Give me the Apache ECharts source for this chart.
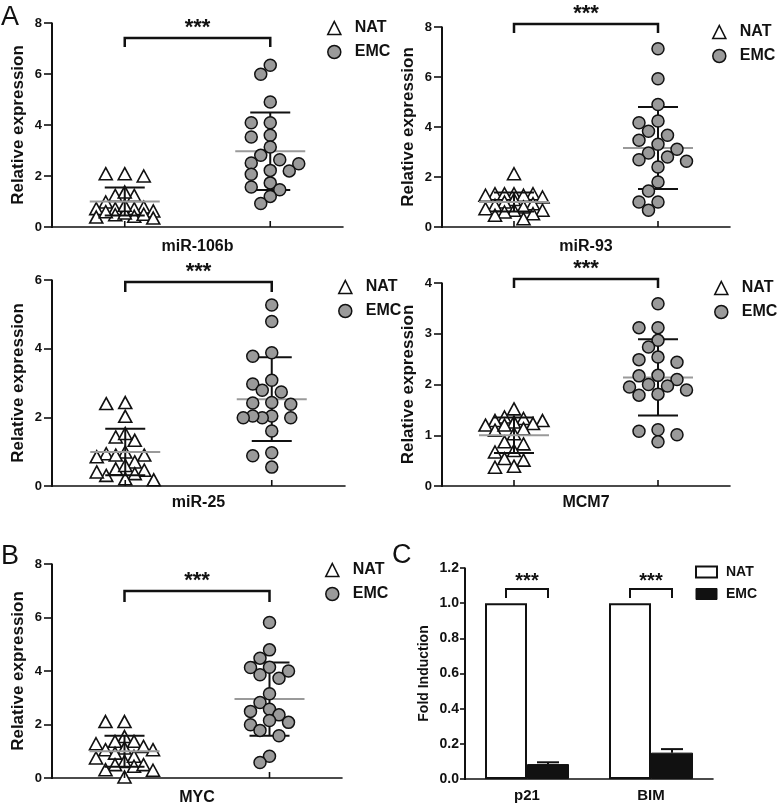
<!DOCTYPE html>
<html><head><meta charset="utf-8">
<script src="https://cdn.jsdelivr.net/npm/echarts@6/dist/echarts.min.js"></script>
<style>html,body{margin:0;padding:0;background:#fff}#c{width:782px;height:808px}</style>
</head><body><div id="c"></div>
<script>
// ---------------- DATA ----------------
const groups = ['NAT', 'EMC'];
const panelNames = ['miR-106b', 'miR-93', 'miR-25', 'MCM7', 'MYC'];
const yTitle = 'Relative expression';

const nat106b = [2.09, 2.0, 2.09, 1.24, 1.24, 1.37, 0.98, 0.72, 0.78, 0.72, 0.72, 0.63, 0.48, 0.39, 0.42, 0.55, 0.85, 0.6, 0.5, 0.35];
const emc106b = [6.34, 5.99, 4.9, 4.09, 4.09, 3.6, 3.53, 3.14, 2.81, 2.64, 2.51, 2.48, 2.22, 2.2, 2.07, 1.73, 1.57, 1.46, 1.2, 0.92];

const nat93 = [2.13, 1.33, 1.33, 1.33, 1.33, 1.27, 1.27, 1.2, 1.1, 1.0, 0.93, 0.87, 0.8, 0.73, 0.67, 0.67, 0.6, 0.53, 0.47, 0.33];
const emc93 = [7.13, 5.93, 4.9, 4.17, 4.24, 3.83, 3.47, 3.67, 3.31, 3.11, 2.96, 2.69, 2.8, 2.63, 2.4, 1.8, 1.44, 1.0, 1.0, 0.67];

const nat25 = [2.4, 2.43, 2.03, 1.33, 1.43, 1.53, 0.9, 0.94, 0.99, 0.9, 0.5, 0.7, 0.6, 0.46, 0.31, 0.41, 0.18, 0.36, 0.21, 0.85];
const emc25 = [5.27, 4.79, 3.78, 3.88, 3.08, 2.97, 2.79, 2.74, 2.42, 2.43, 2.38, 2.04, 1.99, 1.99, 2.04, 1.99, 1.6, 0.97, 0.88, 0.55];

const natMCM7 = [1.52, 1.36, 1.33, 1.29, 1.29, 1.26, 1.23, 1.2, 1.13, 1.1, 1.03, 0.87, 0.83, 0.7, 0.67, 0.54, 0.51, 0.39, 0.37, 1.2];
const emcMCM7 = [3.59, 3.12, 3.12, 2.87, 2.74, 2.44, 2.54, 2.49, 2.1, 2.17, 2.18, 1.97, 1.95, 2.0, 1.89, 1.81, 1.79, 1.08, 1.11, 1.01, 0.87];

const natMYC = [2.11, 2.11, 1.55, 1.37, 1.37, 1.28, 1.18, 1.12, 1.06, 1.06, 0.93, 0.62, 0.81, 0.75, 0.5, 0.44, 0.5, 0.31, 0.29, 0.04];
const emcMYC = [5.81, 4.79, 4.48, 4.14, 4.13, 3.86, 3.73, 4.0, 3.15, 2.82, 2.57, 2.49, 2.36, 2.08, 2.15, 1.99, 1.78, 1.58, 0.81, 0.58];

const natMean = [1.0, 1.0, 0.99, 1.0, 1.0];
const natSD = [0.55, 0.38, 0.68, 0.35, 0.58];
const emcMean = [2.97, 3.16, 2.53, 2.14, 2.95];
const emcSD = [1.52, 1.64, 1.22, 0.75, 1.37];

const yMax = [8, 8, 6, 4, 8];
const yStep = [2, 2, 2, 1, 2];
const sigLabel = '***';

const genes = ['p21', 'BIM'];
const natFold = [1.0, 1.0];
const emcFold = [0.085, 0.15];
const emcFoldErr = [0.01, 0.02];
const foldMax = 1.2;
const foldStep = 0.2;
const foldTitle = 'Fold Induction';
const panelLetters = ['A', 'B', 'C'];

// ---------------- LAYOUT ----------------
const FONT = "'Liberation Sans', Arial, Helvetica, sans-serif";
const INK = '#111111';
const layout = [
  {left: 52,  top: 23,  width: 291, height: 204, legendLeft: 322, legendTop: 15,  bracket: [7.41, 7.06], gapX: 12},
  {left: 442, top: 27,  width: 288, height: 200, legendLeft: 707, legendTop: 19,  bracket: [8.12, 7.76], gapX: 12},
  {left: 52,  top: 280, width: 293, height: 206, legendLeft: 333, legendTop: 274, bracket: [5.94, 5.65], gapX: 9},
  {left: 442, top: 283, width: 288, height: 203, legendLeft: 709, legendTop: 275, bracket: [4.08, 3.90], gapX: 9},
  {left: 52,  top: 564, width: 290, height: 214, legendLeft: 320, legendTop: 557, bracket: [6.99, 6.58], gapX: 12}
];
const barLayout = {left: 465, top: 568, width: 248, height: 211, legendLeft: 690, legendTop: 559, bracket: [1.08, 1.03]};

const natSets = [nat106b, nat93, nat25, natMCM7, natMYC];
const emcSets = [emc106b, emc93, emc25, emcMCM7, emcMYC];

// beeswarm placement (pixel space), returns offsets in x-data units
function swarm(values, pxX, pxY, step, dist) {
  const order = values.map((v, i) => i).sort((a, b) => values[b] - values[a]);
  const placed = [];
  const off = new Array(values.length);
  const cands = [0, -1, 1, -2, 2, -3, 3];
  order.forEach(i => {
    const y = values[i] * pxY;
    let best = 0, bestD = -1;
    for (const c of cands) {
      const x = c * step;
      let md = Infinity;
      for (const p of placed) { const d = Math.hypot(p.x - x, p.y - y); if (d < md) md = d; }
      if (md >= dist) { best = x; bestD = md; break; }
      if (md > bestD) { bestD = md; best = x; }
    }
    placed.push({x: best, y: y});
    off[i] = best / pxX;
  });
  return off;
}

function statsRender(params, api) {
  const x = api.value(0), m = api.value(1), s = api.value(2);
  const pm = api.coord([x, m]);
  const pt = api.coord([x, m + s]);
  const pb = api.coord([x, Math.max(m - s, 0)]);
  const p0 = api.coord([x, 0]);
  const blk = {stroke: INK, lineWidth: 2};
  return {type: 'group', children: [
    {type: 'line', shape: {x1: p0[0], y1: p0[1], x2: p0[0], y2: p0[1] - 6}, style: {stroke: INK, lineWidth: 1.6}},
    {type: 'line', shape: {x1: pt[0], y1: pt[1], x2: pb[0], y2: pb[1]}, style: blk},
    {type: 'line', shape: {x1: pt[0] - 20, y1: pt[1], x2: pt[0] + 20, y2: pt[1]}, style: blk},
    {type: 'line', shape: {x1: pb[0] - 20, y1: pb[1], x2: pb[0] + 20, y2: pb[1]}, style: blk},
    {type: 'line', shape: {x1: pm[0] - 35, y1: pm[1], x2: pm[0] + 35, y2: pm[1]}, style: {stroke: '#9a9a9a', lineWidth: 2}}
  ]};
}

// left axis spine as a thin filled bar, from the grid's coordinate system
function spineRender(params, api) {
  const cs = params.coordSys;
  return {type: 'rect', shape: {x: cs.x - 1, y: cs.y, width: 2, height: cs.height + 1},
    style: {fill: INK}};
}

function makeBracket(dx, fontSize, lw, textOff) {
  return function (params, api) {
    const a = api.coord([api.value(0), api.value(2)]);
    const b = api.coord([api.value(1), api.value(2)]);
    const ad = api.coord([api.value(0), api.value(3)]);
    const xa = a[0] - dx, xb = b[0] + dx;
    return {type: 'group', children: [
      {type: 'polyline', shape: {points: [[xa, ad[1]], [xa, a[1]], [xb, a[1]], [xb, ad[1]]]},
        style: {stroke: INK, lineWidth: lw, fill: 'none'}},
      {type: 'text', style: {text: sigLabel, x: (xa + xb) / 2, y: a[1] - textOff, align: 'center',
        verticalAlign: 'middle', font: 'bold ' + fontSize + 'px ' + FONT, fill: INK}}
    ]};
  };
}

const grid = [], xAxis = [], yAxis = [], series = [], legend = [];

layout.forEach((L, k) => {
  grid.push({left: L.left, top: L.top, width: L.width, height: L.height});
  xAxis.push({
    gridIndex: k, type: 'value', min: -0.5, max: 1.5,
    axisLine: {show: true, onZero: false, lineStyle: {color: INK, width: 1.6}},
    axisTick: {show: false}, axisLabel: {show: false}, splitLine: {show: false},
    name: panelNames[k], nameLocation: 'middle', nameGap: L.gapX,
    nameTextStyle: {fontFamily: FONT, fontWeight: 'bold', fontSize: 16, color: INK}
  });
  yAxis.push({
    gridIndex: k, type: 'value', min: 0, max: yMax[k], interval: yStep[k],
    axisLine: {show: true, onZero: false, lineStyle: {color: INK, width: 1.6}},
    axisTick: {show: true, length: 8, lineStyle: {color: INK, width: 1.6}},
    axisLabel: {fontFamily: FONT, fontWeight: 'bold', fontSize: 13, color: INK, margin: 10},
    splitLine: {show: false},
    name: yTitle, nameLocation: 'middle', nameGap: 25,
    nameTextStyle: {fontFamily: FONT, fontWeight: 'bold', fontSize: 17, color: INK}
  });
  const pxX = L.width / 2, pxY = L.height / yMax[k];
  const natOff = swarm(natSets[k], pxX, pxY, 9.5, 10);
  const emcOff = swarm(emcSets[k], pxX, pxY, 9.5, 11);
  series.push({
    type: 'scatter', name: groups[0], xAxisIndex: k, yAxisIndex: k, z: 2, silent: true,
    symbol: 'triangle', symbolSize: [13, 12],
    itemStyle: {color: '#fff', borderColor: INK, borderWidth: 1.6, opacity: 1},
    data: natSets[k].map((v, i) => [0 + natOff[i], v])
  });
  series.push({
    type: 'scatter', name: groups[1], xAxisIndex: k, yAxisIndex: k, z: 2, silent: true,
    symbol: 'circle', symbolSize: 12,
    itemStyle: {color: '#9a9a9a', borderColor: INK, borderWidth: 1.5, opacity: 1},
    data: emcSets[k].map((v, i) => [1 + emcOff[i], v])
  });
  series.push({type: 'custom', xAxisIndex: k, yAxisIndex: k, z: 3, silent: true, clip: false,
    renderItem: statsRender, data: [[0, natMean[k], natSD[k]]]});
  series.push({type: 'custom', xAxisIndex: k, yAxisIndex: k, z: 1, silent: true, clip: false,
    renderItem: statsRender, data: [[1, emcMean[k], emcSD[k]]]});
  series.push({type: 'custom', xAxisIndex: k, yAxisIndex: k, z: 4, silent: true, clip: false,
    renderItem: makeBracket(0, 22, 2.5, 10), data: [[0, 1, L.bracket[0], L.bracket[1]]]});
  series.push({type: 'custom', xAxisIndex: k, yAxisIndex: k, z: 50, silent: true, clip: false,
    renderItem: spineRender, data: [[0.5, 1]]});
  legend.push({
    left: L.legendLeft, top: L.legendTop, orient: 'vertical', itemWidth: 13, itemHeight: 13, itemGap: 8,
    selectedMode: false,
    textStyle: {fontFamily: FONT, fontWeight: 'bold', fontSize: 16, color: INK, lineHeight: 16, padding: [0, 0, 0, 9]},
    data: [
      {name: groups[0], icon: 'triangle', itemStyle: {color: '#fff', borderColor: INK, borderWidth: 1.6}},
      {name: groups[1], icon: 'circle', itemStyle: {color: '#9a9a9a', borderColor: INK, borderWidth: 1.5}}
    ]
  });
});

// Panel C (bars)
const kb = layout.length;
grid.push({left: barLayout.left, top: barLayout.top, width: barLayout.width, height: barLayout.height});
xAxis.push({
  gridIndex: kb, type: 'category', data: genes,
  axisLine: {show: true, onZero: false, lineStyle: {color: INK, width: 1.6}}, axisTick: {show: false},
  axisLabel: {fontFamily: FONT, fontWeight: 'bold', fontSize: 15, color: INK, margin: 9}
});
yAxis.push({
  gridIndex: kb, type: 'value', min: 0, max: foldMax, interval: foldStep,
  axisLine: {show: true, onZero: false, lineStyle: {color: INK, width: 1.6}},
  axisTick: {show: true, length: 5, lineStyle: {color: INK, width: 1.6}},
  axisLabel: {fontFamily: FONT, fontWeight: 'bold', fontSize: 14, color: INK, margin: 6,
    formatter: v => v.toFixed(1)},
  splitLine: {show: false},
  name: foldTitle, nameLocation: 'middle', nameGap: 34,
  nameTextStyle: {fontFamily: FONT, fontWeight: 'bold', fontSize: 14, color: INK}
});
series.push({type: 'bar', name: groups[0], xAxisIndex: kb, yAxisIndex: kb, barWidth: 42, barGap: '0%', silent: true,
  itemStyle: {color: '#fff', borderColor: INK, borderWidth: 2}, data: natFold});
series.push({type: 'bar', name: groups[1], xAxisIndex: kb, yAxisIndex: kb, barWidth: 42, barGap: '0%', silent: true,
  itemStyle: {color: INK, borderColor: INK, borderWidth: 1}, data: emcFold});
series.push({type: 'custom', xAxisIndex: kb, yAxisIndex: kb, z: 3, silent: true, clip: false,
  data: genes.map((g, i) => [i, emcFold[i], emcFoldErr[i]]),
  renderItem: function (params, api) {
    const b = api.coord([api.value(0), api.value(1)]);
    const t = api.coord([api.value(0), api.value(1) + api.value(2)]);
    const x = b[0] + 21;
    return {type: 'group', children: [
      {type: 'line', shape: {x1: x, y1: b[1], x2: x, y2: t[1]}, style: {stroke: INK, lineWidth: 2}},
      {type: 'line', shape: {x1: x - 11, y1: t[1], x2: x + 11, y2: t[1]}, style: {stroke: INK, lineWidth: 2}}
    ]};
  }});
series.push({type: 'custom', xAxisIndex: kb, yAxisIndex: kb, z: 4, silent: true, clip: false,
  renderItem: makeBracket(21, 20, 2, 8),
  data: genes.map((g, i) => [i, i, barLayout.bracket[0], barLayout.bracket[1]])});
series.push({type: 'custom', xAxisIndex: kb, yAxisIndex: kb, z: 50, silent: true, clip: false,
  renderItem: spineRender, data: [[0, 0.5]]});
legend.push({
  left: barLayout.legendLeft, top: barLayout.legendTop, orient: 'vertical', itemWidth: 21, itemHeight: 11, itemGap: 6,
  selectedMode: false,
  textStyle: {fontFamily: FONT, fontWeight: 'bold', fontSize: 14, color: INK, lineHeight: 16, padding: [0, 0, 0, 4]},
  data: [
    {name: groups[0], icon: 'rect', itemStyle: {color: '#fff', borderColor: INK, borderWidth: 2}},
    {name: groups[1], icon: 'rect', itemStyle: {color: INK, borderColor: INK, borderWidth: 1}}
  ]
});

const letterStyle = {fontFamily: FONT, fontWeight: 'normal', fontSize: 27, color: INK};
const title = [
  {text: panelLetters[0], left: 1, top: 4, padding: 0, textStyle: letterStyle},
  {text: panelLetters[1], left: 1, top: 543, padding: 0, textStyle: letterStyle},
  {text: panelLetters[2], left: 392, top: 542, padding: 0, textStyle: letterStyle}
];

// axis spines also as graphic bars derived from the same grid layout
const allGrids = layout.concat([barLayout]);
const graphic = allGrids.map(g => ({type: 'rect', silent: true, z: 100,
  shape: {x: g.left - 1, y: g.top, width: 2, height: g.height + 1}, style: {fill: INK}}));

const chart = echarts.init(document.getElementById('c'), null, {renderer: 'canvas'});
chart.setOption({animation: false, backgroundColor: '#ffffff', title, grid, xAxis, yAxis, series, legend, graphic});
</script>
</body></html>
